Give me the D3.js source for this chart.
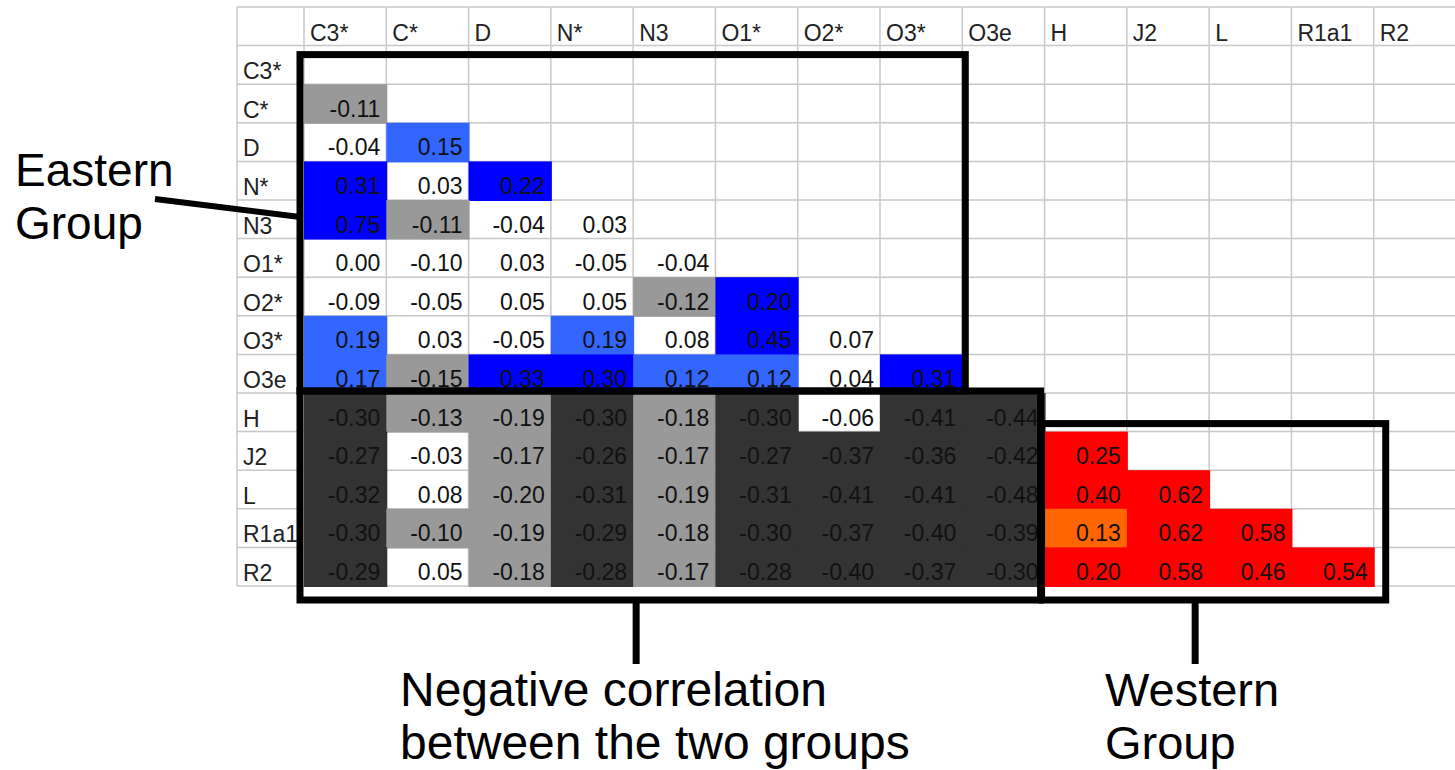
<!DOCTYPE html>
<html>
<head>
<meta charset="utf-8">
<script src="https://cdn.jsdelivr.net/npm/d3@7"></script>
<style>
  body { margin: 0; background: #fff; }
  svg { display: block; font-family: "Liberation Sans", Arial, sans-serif; }
</style>
</head>
<body>
<div class="chart"></div>
<script>
// haplogroups, in the order they sit in the sheet (rows and columns)
var haplogroups = ["C3*", "C*", "D", "N*", "N3", "O1*", "O2*", "O3*", "O3e", "H", "J2", "L", "R1a1", "R2"];
var easternGroup = ["C3*", "C*", "D", "N*", "N3", "O1*", "O2*", "O3*", "O3e"];
var westernGroup = ["H", "J2", "L", "R1a1", "R2"];

// lower triangle of the correlation matrix, one array per row
var rowC3   = [];
var rowC    = [-0.11];
var rowD    = [-0.04, 0.15];
var rowN    = [0.31, 0.03, 0.22];
var rowN3   = [0.75, -0.11, -0.04, 0.03];
var rowO1   = [0.00, -0.099, 0.03, -0.05, -0.04];   // prints as -0.10, not shaded in the sheet
var rowO2   = [-0.09, -0.05, 0.05, 0.05, -0.12, 0.20];
var rowO3   = [0.19, 0.03, -0.05, 0.19, 0.08, 0.45, 0.07];
var rowO3e  = [0.17, -0.15, 0.33, 0.30, 0.12, 0.12, 0.04, 0.31];
var rowH    = [-0.30, -0.13, -0.19, -0.30, -0.18, -0.30, -0.06, -0.41, -0.44];
var rowJ2   = [-0.27, -0.03, -0.17, -0.26, -0.17, -0.27, -0.37, -0.36, -0.42, 0.25];
var rowL    = [-0.32, 0.08, -0.20, -0.31, -0.19, -0.31, -0.41, -0.41, -0.48, 0.40, 0.62];
var rowR1a1 = [-0.30, -0.10, -0.19, -0.29, -0.18, -0.30, -0.37, -0.40, -0.39, 0.13, 0.62, 0.58];
var rowR2   = [-0.29, 0.05, -0.18, -0.28, -0.17, -0.28, -0.40, -0.37, -0.30, 0.20, 0.58, 0.46, 0.54];

var matrixRows = [rowC3, rowC, rowD, rowN, rowN3, rowO1, rowO2, rowO3, rowO3e,
                  rowH, rowJ2, rowL, rowR1a1, rowR2];

// flatten into cells
var cells = [];
matrixRows.forEach(function(vals, i) {
  vals.forEach(function(v, j) {
    cells.push({ row: haplogroups[i], col: haplogroups[j], value: v });
  });
});

// shading like the spreadsheet: blue inside the east, red inside the west, grey for negatives
function cellColor(d) {
  var west = westernGroup.indexOf(d.row) >= 0 && westernGroup.indexOf(d.col) >= 0;
  if (d.value >= 0.195) return west ? "#ff0000" : "#0000ff";
  if (d.value >= 0.095) return west ? "#ff6600" : "#3366ff";
  if (d.value <= -0.205) return "#333333";
  if (d.value <= -0.0995) return "#999999";
  return null;
}

var svgWidth = 1455, svgHeight = 770;
var svg = d3.select(".chart").append("svg")
  .attr("width", svgWidth)
  .attr("height", svgHeight);

var gridLeft = 237, labelColRight = 304, gridTop = 7, gridBottom = 586;

var x = d3.scaleBand().domain(haplogroups).range([labelColRight, svgWidth + 1]);
var y = d3.scaleBand().domain(["head"].concat(haplogroups)).range([gridTop, gridBottom]);
var bw = x.bandwidth(), bh = y.bandwidth();

// sheet grid lines
var grid = svg.append("g").attr("stroke", "#c8c8c8").attr("stroke-width", 1.5);
grid.selectAll("line.h")
  .data(y.domain().map(function(r) { return y(r); }).concat([gridBottom]))
  .enter().append("line")
  .attr("x1", gridLeft).attr("x2", svgWidth)
  .attr("y1", function(d) { return d; }).attr("y2", function(d) { return d; });
grid.selectAll("line.v")
  .data([gridLeft].concat(haplogroups.map(function(c) { return x(c); })))
  .enter().append("line")
  .attr("y1", gridTop).attr("y2", gridBottom)
  .attr("x1", function(d) { return d; }).attr("x2", function(d) { return d; });

// shaded cells
svg.append("g").selectAll("rect")
  .data(cells.filter(function(d) { return cellColor(d); }))
  .enter().append("rect")
  .attr("x", function(d) { return x(d.col); })
  .attr("y", function(d) { return y(d.row); })
  .attr("width", bw + 1)
  .attr("height", bh + 1)
  .attr("fill", cellColor);

// cell values
svg.append("g").selectAll("text")
  .data(cells)
  .enter().append("text")
  .attr("x", function(d) { return x(d.col) + bw - 6; })
  .attr("y", function(d) { return y(d.row) + bh - 6; })
  .attr("text-anchor", "end")
  .attr("font-size", 23)
  .attr("fill", "#111")
  .text(function(d) { return d.value.toFixed(2); });

// column headers
svg.append("g").selectAll("text")
  .data(haplogroups)
  .enter().append("text")
  .attr("x", function(d) { return x(d) + 6; })
  .attr("y", y("head") + bh - 5)
  .attr("font-size", 23)
  .attr("fill", "#222")
  .text(function(d) { return d; });

// row headers
svg.append("g").selectAll("text")
  .data(haplogroups)
  .enter().append("text")
  .attr("x", gridLeft + 6)
  .attr("y", function(d) { return y(d) + bh - 5; })
  .attr("font-size", 23)
  .attr("fill", "#222")
  .text(function(d) { return d; });

// annotation boxes
var ann = svg.append("g").attr("fill", "none").attr("stroke", "#000").attr("stroke-width", 7);

var east = { x0: x("C3*") - 4, x1: x("O3*") + bw + 3, y0: y("C3*") + 9, y1: y("H") - 2 };
var cross = { x0: x("C3*") - 4, x1: x("O3e") + bw - 4, y0: y("H") - 2, y1: gridBottom + 14 };
var west = { x0: x("H") - 3, x1: x("R1a1") + bw + 12, y0: y("J2") - 8, y1: gridBottom + 14 };

[east, cross, west].forEach(function(b) {
  ann.append("rect")
    .attr("x", b.x0).attr("y", b.y0)
    .attr("width", b.x1 - b.x0).attr("height", b.y1 - b.y0);
});

// pointer lines
ann.append("line")
  .attr("x1", 155).attr("y1", 199)
  .attr("x2", east.x0).attr("y2", y("N3") + 17)
  .attr("stroke-width", 6);
ann.append("line")
  .attr("x1", x("N3") + 3).attr("x2", x("N3") + 3)
  .attr("y1", cross.y1).attr("y2", 664);
ann.append("line")
  .attr("x1", x("J2") + bw * 0.83).attr("x2", x("J2") + bw * 0.83)
  .attr("y1", west.y1).attr("y2", 664);

// annotation labels
var labels = [
  { x: 15, y: 186, size: 46, lines: ["Eastern", "Group"] },
  { x: 400, y: 706, size: 48, lines: ["Negative correlation", "between the two groups"] },
  { x: 1105, y: 706, size: 47, lines: ["Western", "Group"] }
];
labels.forEach(function(l) {
  l.lines.forEach(function(t, k) {
    svg.append("text")
      .attr("x", l.x)
      .attr("y", l.y + k * 53)
      .attr("font-size", l.size)
      .attr("fill", "#000")
      .text(t);
  });
});
</script>
</body>
</html>
